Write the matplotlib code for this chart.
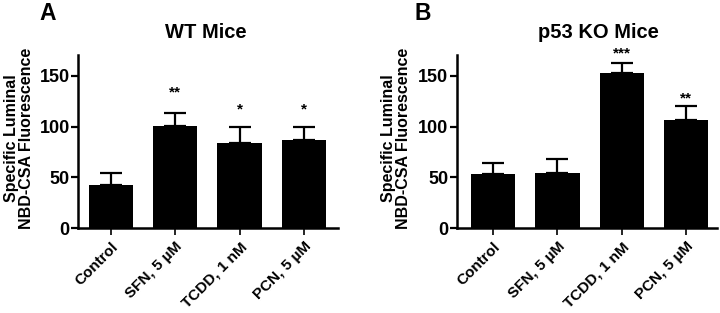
import matplotlib
matplotlib.use("Agg")
import matplotlib.pyplot as plt

plt.rcParams['font.family'] = ['Liberation Sans', 'DejaVu Sans']
plt.rcParams['font.weight'] = 'bold'

categories = ["Control", "SFN, 5 µM", "TCDD, 1 nM", "PCN, 5 µM"]

wt_means = [42.5, 100.5, 84, 86.5]
wt_err_top = [54, 113, 100, 100]
wt_stars = ["", "**", "*", "*"]
wt_star_y = [0, 134, 117, 117]

ko_means = [53.5, 54.5, 153, 106.5]
ko_err_top = [64, 68, 163, 120.5]
ko_stars = ["", "", "***", "**"]
ko_star_y = [0, 0, 172, 128]

yticks = [0, 50, 100, 150]
ylabel = "Specific Luminal\nNBD-CSA Fluorescence"

fig = plt.figure(figsize=(7.2, 3.13), dpi=100)
W, H = 720, 313


def make_panel(left_px, right_px, xlim, means, err_top, stars, star_y, title, title_x, letter, letter_x, label_x):
    bottom_px, top_px = 228.3, 55.4
    ax = fig.add_axes([left_px / W, 1 - bottom_px / H, (right_px - left_px) / W, (bottom_px - top_px) / H])
    x = list(range(len(categories)))
    ax.bar(x, means, width=0.69, color='black', zorder=2)
    upper = [t - m for t, m in zip(err_top, means)]
    ax.errorbar(x, means, yerr=[[0] * len(x), upper], fmt='none', ecolor='black',
                elinewidth=1.6, capsize=8, capthick=1.6, zorder=1)
    for xi, s, sy in zip(x, stars, star_y):
        if s:
            ax.text(xi, sy, s, ha='center', va='center', fontsize=11, fontweight='bold')
    ax.set_xlim(*xlim)
    ax.set_ylim(0, 170)
    ax.set_yticks(yticks)
    ax.set_xticks(x)
    ax.set_xticklabels(categories, rotation=45, ha='right', rotation_mode='anchor', fontsize=11, fontweight='bold')
    ax.tick_params(axis='y', labelsize=13, width=1.6, length=5, direction='out', pad=1)
    ax.tick_params(axis='x', width=1.2, length=5, direction='out', pad=3)
    for lab in ax.get_yticklabels():
        lab.set_fontweight('bold')
    for sp in ['top', 'right']:
        ax.spines[sp].set_visible(False)
    for sp in ['left', 'bottom']:
        ax.spines[sp].set_linewidth(1.8)
    ax.set_ylabel(ylabel, fontsize=11.5, fontweight='bold', linespacing=1.0)
    ax.yaxis.set_label_coords(label_x, 0.52)
    fig.text(title_x / W, 1 - 33 / H, title, ha='center', va='center', fontsize=14.5, fontweight='bold')
    fig.text(letter_x / W, 1 - 14 / H, letter, ha='center', va='center', fontsize=16.5, fontweight='bold')
    return ax


make_panel(78, 338, (-0.51, 3.53), wt_means, wt_err_top, wt_stars, wt_star_y,
           "WT Mice", 206, "A", 48, -0.17)
make_panel(456.7, 717, (-0.565, 3.48), ko_means, ko_err_top, ko_stars, ko_star_y,
           "p53 KO Mice", 598, "B", 423, -0.176)

fig.savefig("out.png", dpi=100)
